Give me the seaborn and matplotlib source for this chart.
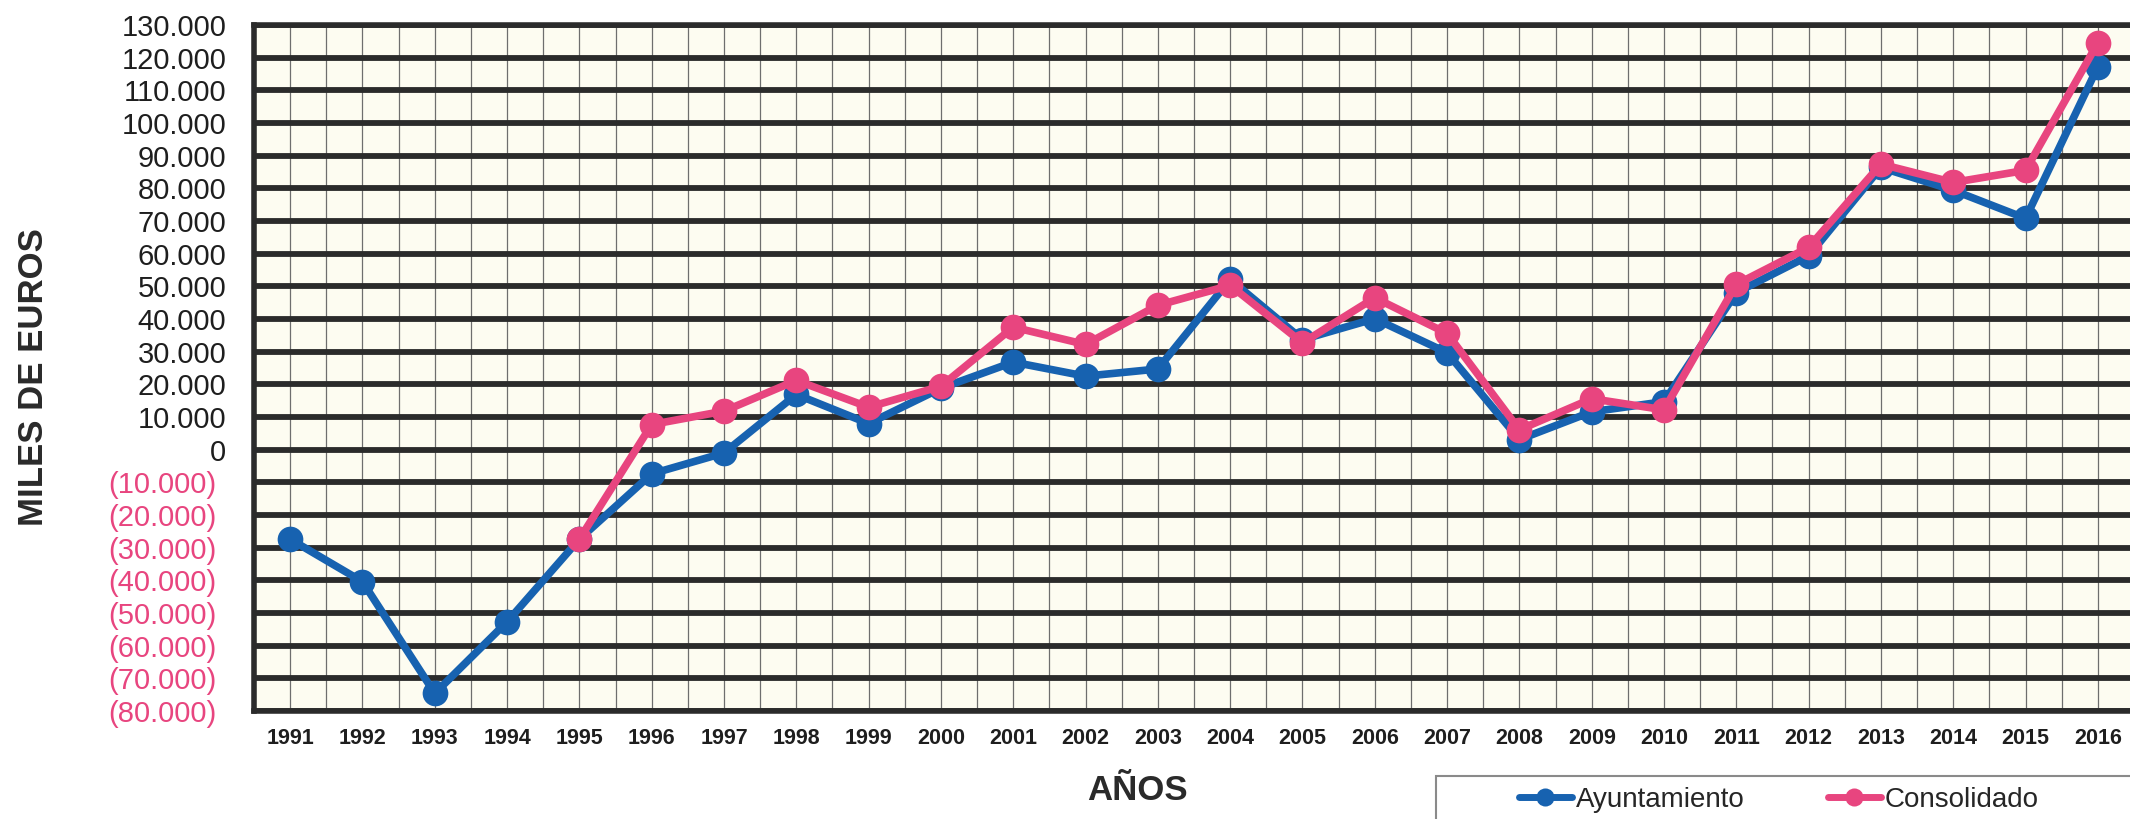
import numpy as np
import pandas as pd
import matplotlib.pyplot as plt
import matplotlib.transforms as mtransforms
from matplotlib.lines import Line2D
from matplotlib.patches import Rectangle
import seaborn as sns

# Datos (miles de euros)
anios = list(range(1991, 2017))
ayuntamiento = [-27.4, -40.4, -74.6, -52.7, -27.4, -7.4, -1.0, 16.9, 8.0, 18.8,
                26.8, 22.5, 24.7, 52.1, 33.7, 40.1, 29.7, 3.1, 11.6, 14.7,
                48.1, 59.3, 86.4, 79.4, 70.8, 117.2]
consolidado = [np.nan, np.nan, np.nan, np.nan, -27.4, 7.7, 11.8, 21.2, 13.0, 19.4,
               37.5, 32.2, 44.2, 50.3, 32.7, 46.5, 35.6, 6.1, 15.6, 12.2,
               50.6, 61.9, 87.4, 81.8, 85.5, 124.5]
y_ticks = list(range(-80000, 130001, 10000))

AZUL = '#1762b0'
ROSA = '#e8457f'

df = pd.DataFrame({
    'Año': anios * 2,
    'Valor': [v * 1000 for v in ayuntamiento + consolidado],
    'Serie': ['Ayuntamiento'] * len(anios) + ['Consolidado'] * len(anios),
}).dropna()

sns.set_style("white")
plt.rcParams['font.family'] = ['Liberation Sans', 'DejaVu Sans']

W, H = 2130, 819
fig = plt.figure(figsize=(W / 100, H / 100), dpi=100)
ax = fig.add_axes([254 / W, 1 - 711 / H, (2134 - 254) / W, (711 - 25) / H])
ax.set_facecolor('#fdfcf1')

sns.lineplot(data=df, x='Año', y='Valor', hue='Serie', style='Serie',
             palette={'Ayuntamiento': AZUL, 'Consolidado': ROSA},
             markers={'Ayuntamiento': 'o', 'Consolidado': 'o'}, dashes=False,
             linewidth=5.5, markersize=18.5, markeredgewidth=0, legend=False, ax=ax, zorder=3)

ax.set_xlim(anios[0] - 0.5, anios[-1] + 0.5)
ax.set_ylim(y_ticks[0], y_ticks[-1])
ax.set_xlabel('')
ax.set_ylabel('')

# eje x: etiquetas en el centro, marcas en los límites
ax.set_xticks(anios)
ax.set_xticklabels([str(a) for a in anios], fontsize=15.5, fontweight='bold', color='#1e1e1e')
ax.set_xticks([a + 0.5 for a in [anios[0] - 1] + anios], minor=True)
ax.tick_params(axis='x', which='major', length=0, pad=12)
ax.tick_params(axis='x', which='minor', length=4, width=3, color='#2b2b2b', direction='out')

# eje y
ax.set_yticks(y_ticks)
etiquetas = []
for v in y_ticks:
    if v < 0:
        etiquetas.append('(' + f'{-v:,}'.replace(',', '.') + ')')
    else:
        etiquetas.append(f'{v:,}'.replace(',', '.'))
ax.set_yticklabels(etiquetas, fontsize=21)
ax.tick_params(axis='y', length=7, width=3.5, color='#2b2b2b', pad=13, direction='out')
desplaza = mtransforms.ScaledTranslation(-10 / 100, 0, fig.dpi_scale_trans)
for v, lab in zip(y_ticks, ax.get_yticklabels()):
    if v < 0:
        lab.set_color(ROSA)
        lab.set_transform(lab.get_transform() + desplaza)
    else:
        lab.set_color('#1e1e1e')

# cuadrícula
ax.set_axisbelow(True)
ax.grid(axis='y', which='major', color='#2b2b2b', linewidth=4.2)
ax.grid(axis='x', which='both', color='#6e6e6e', linewidth=0.9)
for lado in ['left', 'bottom', 'top']:
    ax.spines[lado].set_color('#2b2b2b')
    ax.spines[lado].set_linewidth(4)
ax.spines['right'].set_visible(False)

fig.text(34 / W, 1 - 377 / H, 'MILES DE EUROS', rotation=90, fontsize=25,
         fontweight='bold', color='#2a2a2a', ha='center', va='center')
fig.text(1137 / W, 1 - 790 / H, 'AÑOS', fontsize=25, fontweight='bold',
         color='#2a2a2a', ha='center', va='center')

# leyenda
fig.patches.append(Rectangle((1436 / W, -0.1), 1, (1 - 776 / H) + 0.1,
                             transform=fig.transFigure, fill=False,
                             edgecolor='#8a8a8a', linewidth=1.5))
handles = [Line2D([], [], color=AZUL, lw=5, marker='o', markersize=13, markeredgewidth=0),
           Line2D([], [], color=ROSA, lw=5, marker='o', markersize=13, markeredgewidth=0)]
fig.legend(handles, ['Ayuntamiento', 'Consolidado'], loc='center left',
           bbox_to_anchor=(1519 / W, 1 - 800 / H), ncol=2, frameon=False,
           fontsize=20, handlelength=1.9, handletextpad=0.15, columnspacing=3.0,
           borderpad=0, borderaxespad=0)

fig.savefig('out.png', dpi=100)
